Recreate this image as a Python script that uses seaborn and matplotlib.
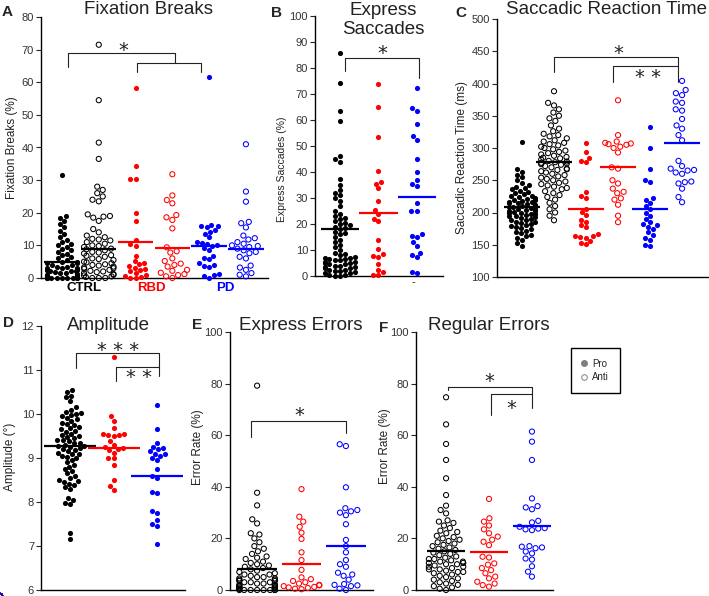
import matplotlib
matplotlib.use("Agg")
import matplotlib.pyplot as plt
import seaborn as sns
import pandas as pd
from matplotlib.lines import Line2D

sns.set_style("ticks")
plt.rcParams['font.family'] = ['Liberation Sans', 'DejaVu Sans']

BLACK, RED, BLUE = "black", "#ff0000", "#0000ff"

#================================
# A - FIXATION BREAKS (%)
#================================
fb_groups = ["CTRL Pro", "CTRL Anti", "RBD Pro", "RBD Anti", "PD Pro", "PD Anti"]
fb_ctrl_pro = [31.5, 19.0, 18.5, 17.5, 16.5, 15.5, 14.5, 13.5, 12.5, 11.5, 11.0, 10.5, 10.0, 9.5, 9.0,
               8.5, 8.0, 7.5, 7.0, 6.5, 6.0, 5.5, 5.0, 5.0, 4.5, 4.5, 4.0, 4.0, 3.5, 3.5, 3.0, 3.0, 3.0,
               2.5, 2.5, 2.5, 2.0, 2.0, 2.0, 1.8, 1.5, 1.5, 1.2, 1.0, 1.0, 0.8, 0.6, 0.5, 0.4, 0.3, 0.2,
               0.1, 0.0, 0.0, 0.0, 0.0, 0.0, 0.0, 0.0, 0.0]
fb_ctrl_anti = [71.5, 54.5, 41.5, 36.5, 28.0, 27.0, 26.0, 25.0, 24.0, 23.5, 19.5, 19.0, 18.8, 18.5, 17.5,
                15.0, 14.0, 13.0, 12.5, 12.0, 11.8, 11.5, 11.0, 10.5, 10.0, 9.8, 9.5, 9.0, 8.8, 8.5, 8.0,
                7.8, 7.5, 7.0, 6.8, 6.5, 6.0, 5.8, 5.5, 5.0, 4.8, 4.5, 4.2, 4.0, 3.8, 3.5, 3.2, 3.0, 2.8,
                2.5, 2.2, 2.0, 1.8, 1.5, 1.2, 1.0, 0.8, 0.5, 0.3, 0.0, 0.0, 0.0]
fb_rbd_pro = [58.3, 34.4, 30.4, 30.2, 20.0, 17.6, 11.8, 10.3, 9.8, 6.8, 5.2, 4.6, 4.3, 3.6, 3.2, 2.8,
              2.5, 2.1, 1.6, 1.0, 0.6, 0.3, 0.0, 0.0]
fb_rbd_anti = [31.8, 25.3, 23.9, 22.9, 19.3, 18.6, 17.8, 15.2, 9.4, 8.2, 7.8, 6.0, 5.2, 4.4, 4.0, 3.5,
               2.5, 2.2, 1.6, 1.2, 0.9, 0.5, 0.0]
fb_pd_pro = [61.7, 16.3, 16.0, 15.8, 15.5, 14.8, 14.2, 13.5, 12.5, 11.0, 10.8, 10.5, 10.2, 9.8, 9.2, 8.5,
             6.8, 6.2, 5.8, 4.5, 4.0, 3.8, 3.4, 1.2, 0.8, 0.5, 0.0]
fb_pd_anti = [41.0, 26.5, 23.4, 17.2, 16.8, 15.5, 13.0, 12.2, 11.8, 11.0, 10.5, 10.0, 9.8, 9.5, 9.0, 8.5,
              8.0, 7.6, 6.5, 6.0, 3.8, 3.2, 2.5, 1.5, 1.0, 0.5]
fb_means = [4.9, 8.8, 11.1, 9.2, 9.8, 8.8]

#================================
# B - EXPRESS SACCADES (%)
#================================
es_groups = ["CTRL", "RBD", "PD"]
es_ctrl = [85.9, 74.3, 63.6, 59.6, 46.0, 45.0, 44.0, 37.5, 35.0, 33.0, 32.0, 31.0, 30.0, 29.0, 27.0, 25.0,
           24.0, 23.0, 22.5, 22.0, 21.0, 20.5, 20.0, 19.5, 19.0, 18.5, 18.0, 17.0, 16.5, 16.0, 15.0, 14.0,
           13.0, 12.0, 11.0, 10.0, 9.0, 8.5, 8.0, 7.5, 7.0, 7.0, 6.5, 6.5, 6.0, 6.0, 5.5, 5.5, 5.0, 5.0,
           4.5, 4.5, 4.0, 4.0, 3.5, 3.5, 3.0, 3.0, 2.5, 2.5, 2.0, 2.0, 1.5, 1.0, 1.0, 0.5, 0.5, 0.0, 0.0]
es_rbd = [74.0, 65.0, 53.5, 40.4, 36.0, 35.5, 33.8, 29.0, 25.5, 24.0, 22.0, 21.0, 14.0, 10.5, 8.3, 7.8,
          7.5, 4.7, 2.5, 1.5, 0.5, 0.3]
es_pd = [72.5, 64.5, 63.5, 58.5, 54.0, 52.5, 45.0, 40.0, 37.0, 35.5, 34.5, 28.0, 25.0, 25.0, 16.0, 15.5,
         15.0, 13.0, 11.5, 9.0, 8.0, 7.5, 1.5, 1.0]
es_means = [18.0, 24.2, 30.5]

#================================
# C - SACCADIC REACTION TIME (ms)
#================================
srt_ctrl_pro = [310, 267, 263, 258, 255, 250, 246, 243, 240, 238, 236, 234, 232, 230, 228, 226, 225, 224,
                222, 221, 220, 219, 218, 217, 216, 215, 214, 213, 212, 211, 210, 209, 208, 207, 206, 205,
                204, 203, 202, 201, 200, 199, 198, 197, 196, 195, 194, 193, 192, 190, 189, 188, 186, 185,
                184, 182, 180, 179, 178, 176, 174, 172, 170, 168, 165, 163, 160, 157, 152, 148]
srt_ctrl_anti = [388, 370, 366, 360, 355, 350, 346, 342, 335, 330, 326, 322, 320, 318, 315, 312, 310, 308,
                 306, 304, 302, 300, 298, 296, 294, 292, 290, 288, 286, 285, 284, 282, 280, 279, 278, 277,
                 276, 275, 274, 272, 270, 268, 267, 266, 264, 262, 260, 258, 256, 254, 252, 250, 248, 246,
                 244, 242, 240, 238, 236, 233, 230, 227, 224, 220, 215, 210, 205, 200, 195, 188]
srt_rbd_pro = [307, 294, 285, 280, 278, 232, 226, 222, 205, 201, 196, 188, 186, 180, 177, 166, 164, 163,
               162, 160, 156, 152, 151]
srt_rbd_anti = [374, 320, 310, 308, 307, 306, 305, 302, 300, 293, 270, 268, 250, 245, 237, 232, 230, 222,
                220, 212, 195, 185]
srt_pd_pro = [333, 300, 268, 250, 247, 222, 220, 215, 210, 205, 200, 195, 190, 185, 182, 180, 178, 175,
              170, 165, 160, 158, 150, 148]
srt_pd_anti = [404, 390, 385, 382, 372, 370, 360, 358, 345, 335, 330, 320, 312, 280, 272, 268, 266, 265,
               262, 260, 248, 247, 245, 237, 224, 216]
srt_means = [209, 279, 206, 271, 206, 308]

#================================
# D - AMPLITUDE (deg)
#================================
amp_ctrl = [10.55, 10.5, 10.42, 10.38, 10.3, 10.15, 10.1, 10.05, 10.02, 10.0, 9.98, 9.95, 9.9, 9.88, 9.85,
            9.8, 9.78, 9.75, 9.7, 9.68, 9.65, 9.62, 9.6, 9.55, 9.52, 9.5, 9.48, 9.45, 9.42, 9.4, 9.38,
            9.35, 9.33, 9.3, 9.28, 9.27, 9.25, 9.23, 9.2, 9.18, 9.15, 9.12, 9.1, 9.08, 9.05, 9.02, 9.0,
            8.95, 8.9, 8.85, 8.8, 8.75, 8.7, 8.65, 8.6, 8.55, 8.5, 8.47, 8.45, 8.42, 8.38, 8.33, 8.3, 8.1,
            8.05, 7.98, 7.95, 7.3, 7.15]
amp_rbd = [11.3, 9.95, 9.85, 9.68, 9.55, 9.55, 9.52, 9.5, 9.52, 9.38, 9.3, 9.25, 9.22, 9.2, 9.18, 9.12,
           9.0, 9.0, 8.85, 8.5, 8.37, 8.28]
amp_pd = [10.2, 9.65, 9.35, 9.25, 9.22, 9.2, 9.15, 9.1, 9.08, 9.05, 9.0, 8.95, 8.75, 8.6, 8.55, 8.22, 8.2,
          7.8, 7.75, 7.6, 7.5, 7.45, 7.05]
amp_means = [9.27, 9.23, 8.6]

#================================
# E - EXPRESS ERRORS (%)
#================================
ee_ctrl = [79.2, 37.7, 32.8, 27.4, 25.8, 22.0, 21.5, 20.0, 18.5, 17.0, 16.0, 15.0, 14.0, 13.0, 12.5, 12.0,
           11.0, 10.5, 10.0, 9.5, 9.0, 8.5, 8.0, 7.5, 7.0, 6.5, 6.0, 6.0, 5.5, 5.0, 5.0, 4.5, 4.5, 4.0,
           4.0, 3.5, 3.5, 3.0, 3.0, 3.0, 2.5, 2.5, 2.0, 2.0, 2.0, 1.5, 1.5, 1.5, 1.0, 1.0, 1.0, 0.5, 0.5,
           0.5, 0.0, 0.0, 0.0, 0.0, 0.0, 0.0, 0.0, 0.0]
ee_rbd = [39.1, 28.4, 26.5, 24.5, 22.2, 19.8, 14.6, 11.6, 7.8, 4.9, 4.2, 3.5, 3.0, 2.5, 2.0, 1.8, 1.5, 1.2,
          1.0, 0.8, 0.5, 0.3]
ee_pd = [56.5, 55.8, 39.8, 31.7, 31.0, 30.5, 30.0, 29.0, 25.5, 19.4, 17.0, 14.6, 11.6, 10.0, 9.0, 6.7, 6.0,
         5.5, 4.0, 2.3, 2.0, 1.8, 1.5, 0.5, 0.0]
ee_means = [8.0, 10.1, 17.2]

#================================
# F - REGULAR ERRORS (%)
#================================
re_ctrl = [74.7, 64.2, 56.6, 50.4, 43.3, 36.8, 32.7, 31.0, 29.7, 27.0, 26.5, 26.0, 25.0, 24.0, 23.0, 22.5,
           22.0, 21.0, 20.5, 20.0, 19.5, 19.0, 18.5, 18.0, 17.5, 17.0, 16.5, 16.0, 15.5, 15.0, 14.5, 14.0,
           13.5, 13.0, 12.5, 12.0, 12.0, 11.5, 11.0, 11.0, 10.5, 10.5, 10.0, 10.0, 9.5, 9.0, 9.0, 8.5, 8.0,
           8.0, 7.5, 7.0, 7.0, 6.5, 6.0, 5.5, 5.0, 4.5, 4.0, 3.5, 3.0, 2.5, 2.0, 1.5, 1.0, 0.5, 0.0]
re_rbd = [35.3, 27.8, 26.5, 25.0, 23.5, 22.0, 20.7, 19.5, 18.7, 17.4, 12.9, 12.6, 10.3, 9.8, 8.5, 7.7, 6.5,
          5.2, 4.5, 3.2, 2.5, 1.9, 1.3]
re_pd = [61.4, 57.5, 50.4, 35.5, 32.5, 32.0, 31.3, 26.8, 26.2, 24.5, 24.0, 23.8, 23.5, 23.2, 17.0, 16.8,
         16.5, 16.2, 14.9, 14.2, 12.2, 11.8, 9.2, 7.1, 5.2]
re_means = [15.2, 14.6, 24.8]

#================================
# HELPERS
#================================
W, H = 709, 596
fig = plt.figure(figsize=(W / 100, H / 100), dpi=100)
hollow_sets = []   # (collection, colour) pairs, re-styled once everything is drawn


def make_ax(left, top, right, bottom):
    return fig.add_axes([left / W, 1 - bottom / H, (right - left) / W, (bottom - top) / H])


def swarm_panel(ax, groups, values, colors, hollow, means, half=0.5):
    for i, vals in enumerate(values):
        df = pd.DataFrame({"group": groups[i], "value": vals})
        kw = dict(facecolor="none", edgecolor=colors[i], linewidth=0.75) if hollow[i] else {}
        n_before = len(ax.collections)
        sns.swarmplot(data=df, x="group", y="value", order=groups, color=colors[i],
                      size=3.7, ax=ax, warn_thresh=1, zorder=3, **kw)
        for pts in ax.collections[n_before:]:
            pts.set_clip_on(False)
            if hollow[i]:
                hollow_sets.append((pts, colors[i]))
        ax.hlines(means[i], i - half, i + half, color=colors[i], lw=1.6, zorder=4)
    ax.set_xlabel("")
    ax.set_ylabel("")


def style(ax, xlim, ylim, yticks):
    ax.set_xlim(xlim)
    ax.set_ylim(ylim)
    ax.set_yticks(yticks)
    ax.set_xticks([])
    for s in ["top", "right"]:
        ax.spines[s].set_visible(False)
    for s in ["left", "bottom"]:
        ax.spines[s].set_linewidth(1.0)
        ax.spines[s].set_color("black")
    ax.tick_params(axis="y", length=3.5, width=0.8, labelsize=8, pad=1.5, labelcolor="#333333")
    ax.patch.set_alpha(0)


def bracket(ax, xs, ys):
    ax.plot(xs, ys, color="#222222", lw=0.8, clip_on=False, zorder=6)


def star(ax, x, y, s):
    ax.annotate(s, (x, y), xytext=(0, -3), textcoords="offset points", ha="center", va="center",
                fontsize=14, color="#222222", family="DejaVu Sans", annotation_clip=False)


def ftext(x, y, s, **kw):
    fig.text(x / W, 1 - y / H, s, ha="center", va="center", **kw)


six_colors = [BLACK, BLACK, RED, RED, BLUE, BLUE]
six_hollow = [False, True, False, True, False, True]
three_colors = [BLACK, RED, BLUE]

#================================
# PANEL A
#================================
ax_a = make_ax(41, 17, 268, 278)
swarm_panel(ax_a, fb_groups, [fb_ctrl_pro, fb_ctrl_anti, fb_rbd_pro, fb_rbd_anti, fb_pd_pro, fb_pd_anti],
            six_colors, six_hollow, fb_means, half=0.48)
style(ax_a, (-0.57, 5.6), (0, 80), range(0, 81, 10))
bracket(ax_a, [0.16, 0.16, 3.07, 3.07], [64.7, 69, 69, 66])
bracket(ax_a, [2.04, 2.04, 3.78, 3.78], [63, 66, 66, 63])
star(ax_a, 1.66, 71, "*")

#================================
# PANEL B
#================================
ax_b = make_ax(315, 16, 443, 276)
swarm_panel(ax_b, es_groups, [es_ctrl, es_rbd, es_pd], three_colors, [False] * 3, es_means, half=0.5)
style(ax_b, (-0.65, 2.68), (0, 100), range(0, 101, 10))
bracket(ax_b, [0.13, 0.13, 2.05, 2.05], [79, 84, 84, 76])
star(ax_b, 1.09, 87, "*")
ax_b.text(1.9, -2.5, "-", ha="center", va="center", fontsize=8, clip_on=False)

#================================
# PANEL C
#================================
ax_c = make_ax(497, 19, 708, 277)
swarm_panel(ax_c, fb_groups, [srt_ctrl_pro, srt_ctrl_anti, srt_rbd_pro, srt_rbd_anti, srt_pd_pro, srt_pd_anti],
            six_colors, six_hollow, srt_means, half=0.55)
style(ax_c, (-0.78, 5.81), (100, 500), range(100, 501, 50))
bracket(ax_c, [1.0, 1.0, 4.88, 4.88], [418, 441, 441, 402])
bracket(ax_c, [2.84, 2.84, 4.88], [402, 427, 427])
star(ax_c, 3.0, 453, "*")
star(ax_c, 3.94, 415, "* *")

#================================
# PANEL D
#================================
ax_d = make_ax(41, 326, 185, 590)
swarm_panel(ax_d, es_groups, [amp_ctrl, amp_rbd, amp_pd], three_colors, [False] * 3, amp_means, half=0.6)
style(ax_d, (-0.67, 2.64), (6, 12), range(6, 13))
bracket(ax_d, [0.14, 0.14, 2.05, 2.05], [11.05, 11.38, 11.38, 10.86])
bracket(ax_d, [1.06, 1.06, 2.05], [10.75, 11.07, 11.07])
star(ax_d, 1.1, 11.54, "* * *")
star(ax_d, 1.59, 10.93, "* *")

#================================
# PANEL E
#================================
ax_e = make_ax(230, 332, 373, 590)
swarm_panel(ax_e, es_groups, [ee_ctrl, ee_rbd, ee_pd], three_colors, [True] * 3, ee_means, half=0.45)
style(ax_e, (-0.61, 2.61), (0, 100), range(0, 101, 20))
bracket(ax_e, [-0.13, -0.13, 2.0, 2.0], [59.3, 65.5, 65.5, 61])
star(ax_e, 0.94, 69.4, "*")

#================================
# PANEL F
#================================
ax_f = make_ax(416, 332, 553, 590)
swarm_panel(ax_f, es_groups, [re_ctrl, re_rbd, re_pd], three_colors, [True] * 3, re_means, half=0.45)
style(ax_f, (-0.70, 2.49), (0, 100), range(0, 101, 20))
bracket(ax_f, [0.05, 0.05, 2.0, 2.0], [77.5, 78.7, 78.7, 70.5])
bracket(ax_f, [1.05, 1.05, 2.0], [67.8, 76, 76])
star(ax_f, 1.0, 82.5, "*")
star(ax_f, 1.51, 72, "*")

# hollow markers for the anti-saccade groups
for pts, c in hollow_sets:
    pts.set_facecolor("none")
    pts.set_edgecolor(c)
    pts.set_linewidth(0.75)

#================================
# TEXT: LETTERS, TITLES, LABELS
#================================
for x, y, s in [(7, 12, "A"), (277, 13, "B"), (461, 13, "C"), (9, 323, "D"), (197, 325, "E"), (384, 328, "F")]:
    ftext(x, y, s, fontsize=11, fontweight="bold")

for x, y, s in [(148, 9, "Fixation Breaks"), (383, 20, "Express\nSaccades"), (607, 9, "Saccadic Reaction Time"),
                (108, 325, "Amplitude"), (301, 325, "Express Errors"), (489, 325, "Regular Errors")]:
    ftext(x, y, s, fontsize=13.5, linespacing=1.1, color="#222222")

for x, y, s, fs in [(12, 148, "Fixation Breaks (%)", 8.5), (282, 169, "Express Saccades (%)", 7.5),
                    (462, 158, "Saccadic Reaction Time (ms)", 8.5), (10, 457, "Amplitude (°)", 8.5),
                    (198, 447, "Error Rate (%)", 8.5), (385, 446, "Error Rate (%)", 8.5)]:
    ftext(x, y, s, fontsize=fs, rotation=90, color="#222222")

for x, s, c in [(84, "CTRL", BLACK), (151, "RBD", RED), (225, "PD", BLUE)]:
    ftext(x, 288, s, fontsize=9.5, fontweight="bold", color=c)

#================================
# LEGEND
#================================
handles = [Line2D([], [], marker="o", ls="", color="#808080", markersize=4),
           Line2D([], [], marker="o", ls="", markerfacecolor="none", markeredgecolor="#808080",
                  markersize=4, markeredgewidth=0.7)]
leg = fig.legend(handles, ["Pro", "Anti"], loc="upper left", bbox_to_anchor=(566 / W, 1 - 343 / H),
                 fontsize=7, frameon=True, fancybox=False, edgecolor="black", framealpha=1,
                 handlelength=0.6, handletextpad=0.5, borderpad=1.1, labelspacing=0.35)
leg.get_frame().set_linewidth(1.0)

fig.savefig("out.png", dpi=100)
